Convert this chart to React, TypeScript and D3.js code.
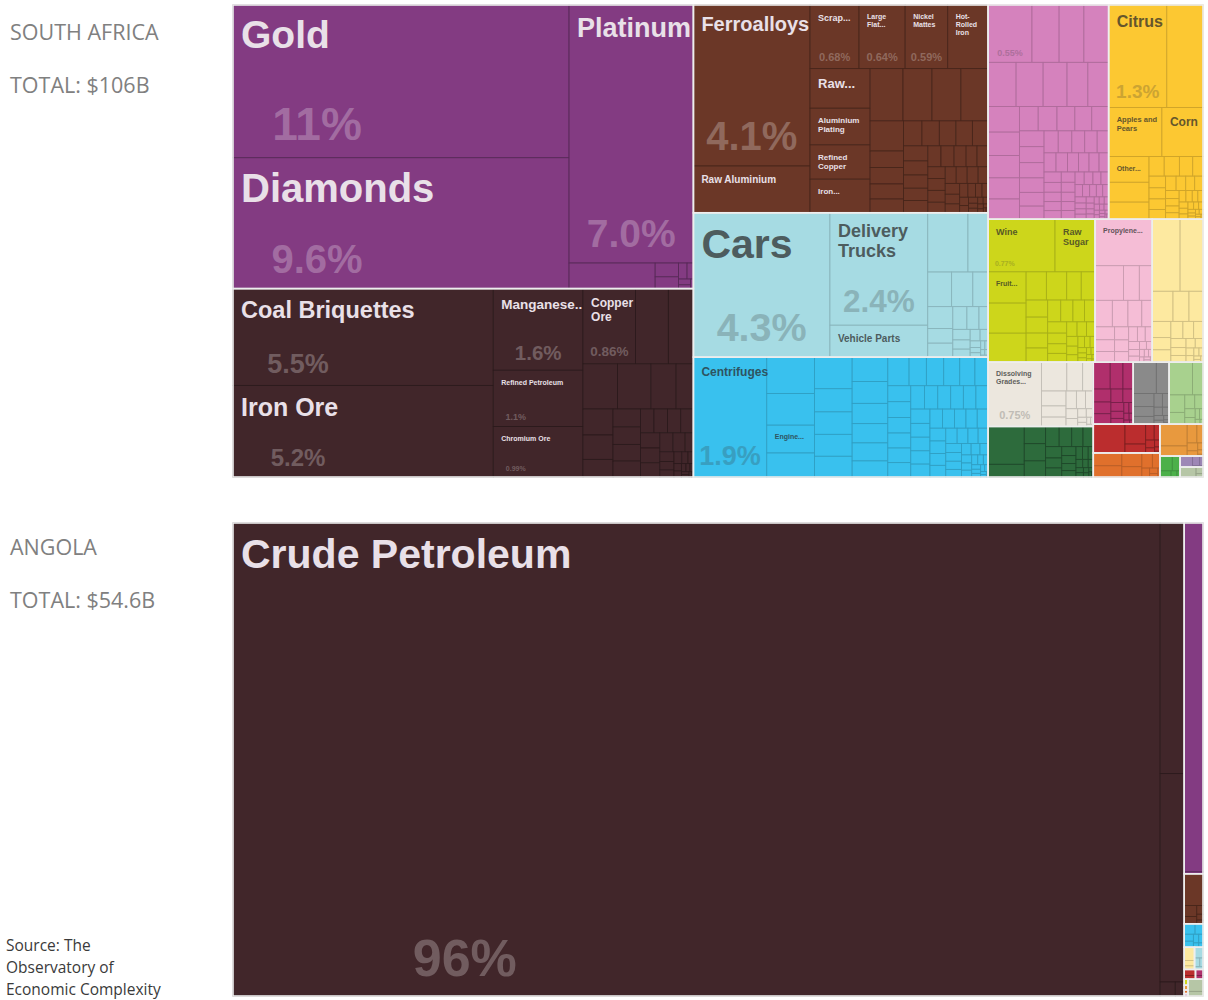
import React, { useMemo } from 'react';
import * as d3 from 'd3';

type Item = [string, number];

// ---------------- texts ----------------
const COUNTRIES = ['SOUTH AFRICA', 'ANGOLA'];
const TOTALS = ['TOTAL: $106B', 'TOTAL: $54.6B'];
const SOURCE = ['Source: The', 'Observatory of', 'Economic Complexity'];

// ---------------- South Africa (share of exports, %) ----------------
const saPreciousMetals: Item[] = [['Gold', 11.2], ['Diamonds', 9.6], ['Platinum', 7.0]];
const saPreciousMetalsRest = [0.48, 0.07, 0.06, 0.03, 0.022, 0.015, 0.01, 0.006];

const saMineralProducts: Item[] = [['Coal Briquettes', 5.5], ['Iron Ore', 5.2], ['Manganese..', 1.6], ['Refined Petroleum', 1.1], ['Chromium Ore', 0.99], ['Copper Ore', 0.86]];
const saMineralProductsRest = [0.54, 0.41, 0.34, 0.33, 0.25, 0.17, 0.17, 0.16, 0.115, 0.107, 0.105, 0.1, 0.095, 0.07, 0.07, 0.068, 0.066, 0.064, 0.062, 0.06, 0.055, 0.05, 0.034, 0.03, 0.026, 0.022, 0.02, 0.016, 0.014, 0.012, 0.01, 0.008, 0.007, 0.006, 0.005, 0.004, 0.003, 0.002];

const saMetals: Item[] = [['Ferroalloys', 4.1], ['Raw Aluminium', 1.19], ['Scrap...', 0.68], ['Large Flat...', 0.64], ['Nickel Mattes', 0.59], ['Hot-Rolled Iron', 0.56], ['Raw...', 0.52], ['Aluminium Plating', 0.48], ['Refined Copper', 0.45], ['Iron...', 0.44]];
const saMetalsRest = [0.375, 0.33, 0.33, 0.31, 0.22, 0.12, 0.12, 0.11, 0.1, 0.1, 0.095, 0.09, 0.09, 0.085, 0.08, 0.075, 0.07, 0.065, 0.065, 0.06, 0.06, 0.055, 0.05, 0.05, 0.045, 0.045, 0.045, 0.04, 0.04, 0.04, 0.04, 0.036, 0.034, 0.03, 0.028, 0.025, 0.023, 0.02, 0.018, 0.016, 0.014, 0.012, 0.01, 0.009, 0.008, 0.007, 0.006, 0.005, 0.004, 0.003, 0.002];

const saTransportation: Item[] = [['Cars', 4.3], ['Delivery Trucks', 2.4], ['Vehicle Parts', 0.68]];
const saTransportationRest = [0.52, 0.26, 0.18, 0.16, 0.115, 0.12, 0.08, 0.076, 0.07, 0.06, 0.045, 0.04, 0.035, 0.03, 0.025, 0.02, 0.015, 0.012, 0.01, 0.008, 0.006, 0.005, 0.004, 0.003];

const saMachines: Item[] = [['Centrifuges', 1.92], ['', 0.38], ['', 0.33], ['Engine...', 0.29]];
const saMachinesRest = [0.25, 0.26, 0.19, 0.185, 0.18, 0.17, 0.19, 0.17, 0.157, 0.15, 0.14, 0.125, 0.133, 0.108, 0.108, 0.1, 0.095, 0.082, 0.08, 0.079, 0.078, 0.075, 0.073, 0.072, 0.07, 0.068, 0.066, 0.065, 0.064, 0.062, 0.06, 0.058, 0.057, 0.056, 0.054, 0.052, 0.05, 0.048, 0.047, 0.045, 0.044, 0.043, 0.041, 0.04, 0.038, 0.036, 0.034, 0.033, 0.031, 0.03, 0.028, 0.026, 0.024, 0.022, 0.02, 0.018, 0.016, 0.015, 0.013, 0.012, 0.01, 0.009, 0.008, 0.007, 0.006, 0.005, 0.004, 0.003, 0.002];

const saChemicalProducts: Item[] = [['Packaged Medicaments', 0.55]];
const saChemicalProductsRest = [0.34, 0.31, 0.31, 0.27, 0.26, 0.23, 0.2, 0.2, 0.176, 0.16, 0.153, 0.145, 0.138, 0.1, 0.1, 0.095, 0.09, 0.09, 0.085, 0.086, 0.082, 0.078, 0.074, 0.07, 0.068, 0.065, 0.062, 0.06, 0.055, 0.05, 0.048, 0.046, 0.044, 0.042, 0.04, 0.039, 0.037, 0.035, 0.034, 0.032, 0.031, 0.03, 0.028, 0.027, 0.026, 0.025, 0.024, 0.022, 0.021, 0.02, 0.019, 0.018, 0.017, 0.016, 0.015, 0.014, 0.013, 0.012, 0.011, 0.01, 0.009, 0.009, 0.008, 0.008, 0.007, 0.007, 0.006, 0.006, 0.005, 0.005, 0.004, 0.004, 0.003, 0.003, 0.002, 0.002];

const saVegetableProducts: Item[] = [['Citrus', 1.3], ['', 0.81], ['Apples and Pears', 0.57], ['Corn', 0.44], ['Other...', 0.227]];
const saVegetableProductsRest = [0.175, 0.15, 0.065, 0.065, 0.057, 0.044, 0.042, 0.04, 0.038, 0.035, 0.033, 0.03, 0.028, 0.026, 0.024, 0.022, 0.02, 0.019, 0.017, 0.016, 0.014, 0.013, 0.012, 0.011, 0.01, 0.009, 0.008, 0.007, 0.006, 0.005, 0.005, 0.004, 0.004, 0.003, 0.003, 0.002];

const saFoodstuffs: Item[] = [['Wine', 0.77], ['Raw Sugar', 0.46], ['Fruit...', 0.26]];
const saFoodstuffsRest = [0.25, 0.24, 0.125, 0.125, 0.09, 0.085, 0.08, 0.075, 0.07, 0.066, 0.062, 0.058, 0.055, 0.05, 0.047, 0.044, 0.04, 0.036, 0.033, 0.03, 0.027, 0.024, 0.021, 0.018, 0.016, 0.014, 0.012, 0.01, 0.009, 0.008, 0.007, 0.006, 0.005, 0.004, 0.003, 0.002];

const saPlastics: Item[] = [['Propylene...', 0.58]];
const saPlasticsRest = [0.215, 0.12, 0.097, 0.1, 0.09, 0.08, 0.06, 0.055, 0.05, 0.045, 0.04, 0.036, 0.032, 0.028, 0.025, 0.022, 0.019, 0.016, 0.014, 0.012, 0.01, 0.008, 0.007, 0.006, 0.005, 0.004, 0.003, 0.002];

const saTextilesRest = [0.44, 0.36, 0.137, 0.105, 0.092, 0.066, 0.05, 0.05, 0.045, 0.04, 0.035, 0.03, 0.026, 0.022, 0.019, 0.016, 0.013, 0.011, 0.009, 0.007, 0.005, 0.004, 0.003];

const saPaperGoods: Item[] = [['Dissolving Grades...', 0.75]];
const saPaperGoodsRest = [0.16, 0.1, 0.067, 0.08, 0.06, 0.05, 0.04, 0.035, 0.03, 0.025, 0.02, 0.016, 0.013, 0.01, 0.008, 0.006, 0.004, 0.003];

const saStoneRest = [0.3, 0.1, 0.08, 0.08, 0.075, 0.06, 0.055, 0.05, 0.045, 0.04, 0.035, 0.032, 0.028, 0.025, 0.022, 0.02, 0.018, 0.016, 0.014, 0.012, 0.01, 0.009, 0.008, 0.007, 0.006, 0.005, 0.004, 0.003, 0.002];
const saAnimalHidesRest = [0.1, 0.075, 0.06, 0.05, 0.045, 0.04, 0.035, 0.03, 0.025, 0.02, 0.016, 0.012, 0.01, 0.008, 0.006, 0.005, 0.003];
const saInstrumentsRest = [0.159, 0.087, 0.06, 0.045, 0.035, 0.025, 0.02, 0.015, 0.012, 0.01, 0.008, 0.005, 0.003, 0.002];
const saAnimalProductsRest = [0.168, 0.075, 0.06, 0.04, 0.03, 0.025, 0.02, 0.015, 0.01, 0.008, 0.005, 0.003];
const saWeaponsRest = [0.2, 0.09, 0.04, 0.03, 0.02, 0.015, 0.01, 0.008, 0.005, 0.002];
const saMiscellaneousRest = [0.08, 0.07, 0.06, 0.045, 0.035, 0.025, 0.015, 0.01, 0.006, 0.004];
const saWoodProductsRest = [0.13, 0.06, 0.04, 0.025, 0.018, 0.012, 0.008, 0.005, 0.002];
const saFootwearRest = [0.04, 0.025, 0.015, 0.008, 0.004];
const saArtRest = [0.03, 0.015, 0.007, 0.003];
const saStoneGlassRest = [0.035, 0.01, 0.005];

// ---------------- Angola (share of exports, %) ----------------
const angMineralProducts: Item[] = [['Crude Petroleum', 95.6]];
const angMineralProductsRest = [1.31, 1.09, 0.046, 0.027];
const angPreciousMetalsRest = [1.43, 0.008];
const angMetalsRest = [0.13, 0.03, 0.02, 0.012, 0.008, 0.005];
const angMachinesRest = [0.025, 0.018, 0.014, 0.012, 0.01, 0.008, 0.005, 0.004];
const angTextilesRest = [0.03, 0.012, 0.008];
const angTransportationRest = [0.02, 0.01, 0.006, 0.005];
const angWeaponsRest = [0.015, 0.009];
const angAnimalHidesRest = [0.01, 0.006];
const angFoodstuffsRest = [0.005];
const angWoodProductsRest = [0.004];
const angMiscellaneousRest = [0.003];
const angChemicalProductsRest = [0.002];
const angStoneGlassRest = [0.04, 0.015];

// ---------------- styles ----------------
const SECTOR_COLORS: Record<string, string> = {
  'Precious Metals': '#833b82',
  'Mineral Products': '#41262a',
  'Metals': '#6b3727',
  'Transportation': '#a6dbe3',
  'Machines': '#39c1ee',
  'Chemical Products': '#d582bd',
  'Vegetable Products': '#fcc832',
  'Foodstuffs': '#cdd61b',
  'Plastics and Rubbers': '#f5bdd6',
  'Textiles': '#fde9a0',
  'Paper Goods': '#ece7de',
  'Stone': '#2d6b3c',
  'Animal Hides': '#b02f6c',
  'Instruments': '#8a8a8a',
  'Animal Products': '#a8d18e',
  'Weapons': '#bb2d2e',
  'Miscellaneous': '#e0702c',
  'Wood Products': '#e8993e',
  'Footwear': '#4cb04a',
  'Art': '#9d87b6',
  'Stone and Glass': '#b6c6a6',
};

const LABEL_STYLE: Record<string, { name?: number; pct?: number }> = {
  'Gold': { name: 39, pct: 46 },
  'Diamonds': { name: 40, pct: 40 },
  'Platinum': { name: 27, pct: 39 },
  'Coal Briquettes': { name: 23.5, pct: 27 },
  'Iron Ore': { name: 25, pct: 24 },
  'Manganese..': { name: 13.5, pct: 20.5 },
  'Copper Ore': { name: 12, pct: 13.5 },
  'Refined Petroleum': { name: 7, pct: 9 },
  'Chromium Ore': { name: 7, pct: 7 },
  'Ferroalloys': { name: 20, pct: 40 },
  'Raw Aluminium': { name: 10 },
  'Scrap...': { name: 9, pct: 11 },
  'Large Flat...': { name: 7, pct: 11 },
  'Nickel Mattes': { name: 7, pct: 11 },
  'Hot-Rolled Iron': { name: 7 },
  'Raw...': { name: 13 },
  'Aluminium Plating': { name: 8 },
  'Refined Copper': { name: 8 },
  'Iron...': { name: 8 },
  'Cars': { name: 41, pct: 39.5 },
  'Delivery Trucks': { name: 18, pct: 31.5 },
  'Vehicle Parts': { name: 10 },
  'Centrifuges': { name: 12, pct: 27 },
  'Engine...': { name: 7 },
  'Packaged Medicaments': { pct: 9 },
  'Citrus': { name: 16, pct: 19 },
  'Apples and Pears': { name: 7.5 },
  'Corn': { name: 12 },
  'Other...': { name: 7 },
  'Wine': { name: 9, pct: 7 },
  'Raw Sugar': { name: 9 },
  'Fruit...': { name: 7 },
  'Propylene...': { name: 7 },
  'Dissolving Grades...': { name: 7, pct: 11 },
  'Crude Petroleum': { name: 41, pct: 52 },
};

const FRAMES = [
  { x: 233, y: 5, w: 970, h: 472 },
  { x: 233, y: 523, w: 970, h: 473 },
];
const SIDE_TEXT_Y = [
  [40, 93],
  [555, 608],
];

const LABEL_FONT = '"Liberation Sans", Arial, Helvetica, sans-serif';
const SIDE_FONT = '"Open Sans", "Noto Sans", sans-serif';

// ---------------- hierarchy ----------------
type Node = { name: string; value?: number; children?: Node[] };
const sector = (name: string, items: Item[], rest: number[]): Node => ({
  name,
  children: [
    ...items.map(([n, v]) => ({ name: n, value: v })),
    ...rest.map((v) => ({ name: '', value: v })),
  ],
});

const southAfrica: Node = {
  name: 'South Africa',
  children: [
    sector('Precious Metals', saPreciousMetals, saPreciousMetalsRest),
    sector('Mineral Products', saMineralProducts, saMineralProductsRest),
    sector('Metals', saMetals, saMetalsRest),
    sector('Transportation', saTransportation, saTransportationRest),
    sector('Machines', saMachines, saMachinesRest),
    sector('Chemical Products', saChemicalProducts, saChemicalProductsRest),
    sector('Vegetable Products', saVegetableProducts, saVegetableProductsRest),
    sector('Foodstuffs', saFoodstuffs, saFoodstuffsRest),
    sector('Plastics and Rubbers', saPlastics, saPlasticsRest),
    sector('Textiles', [], saTextilesRest),
    sector('Paper Goods', saPaperGoods, saPaperGoodsRest),
    sector('Stone', [], saStoneRest),
    sector('Animal Hides', [], saAnimalHidesRest),
    sector('Instruments', [], saInstrumentsRest),
    sector('Animal Products', [], saAnimalProductsRest),
    sector('Weapons', [], saWeaponsRest),
    sector('Miscellaneous', [], saMiscellaneousRest),
    sector('Wood Products', [], saWoodProductsRest),
    sector('Footwear', [], saFootwearRest),
    sector('Art', [], saArtRest),
    sector('Stone and Glass', [], saStoneGlassRest),
  ],
};

const angola: Node = {
  name: 'Angola',
  children: [
    sector('Mineral Products', angMineralProducts, angMineralProductsRest),
    sector('Precious Metals', [], angPreciousMetalsRest),
    sector('Metals', [], angMetalsRest),
    sector('Machines', [], angMachinesRest),
    sector('Textiles', [], angTextilesRest),
    sector('Transportation', [], angTransportationRest),
    sector('Weapons', [], angWeaponsRest),
    sector('Animal Hides', [], angAnimalHidesRest),
    sector('Foodstuffs', [], angFoodstuffsRest),
    sector('Wood Products', [], angWoodProductsRest),
    sector('Miscellaneous', [], angMiscellaneousRest),
    sector('Chemical Products', [], angChemicalProductsRest),
    sector('Stone and Glass', [], angStoneGlassRest),
  ],
};

const DATASETS = [southAfrica, angola];

// ---------------- helpers ----------------
let ctx: CanvasRenderingContext2D | null = null;
function measure(text: string, size: number) {
  if (!ctx) ctx = document.createElement('canvas').getContext('2d');
  if (!ctx) return text.length * size * 0.6;
  ctx.font = `bold ${size}px ${LABEL_FONT}`;
  return ctx.measureText(text).width;
}

function wrap(text: string, size: number, maxW: number) {
  const tokens: { s: string; sp: boolean }[] = [];
  text.split(' ').forEach((word) => {
    const parts = word.split(/(?<=-)/);
    parts.forEach((p, i) => tokens.push({ s: p, sp: i === 0 }));
  });
  const lines: string[] = [];
  let line = '';
  tokens.forEach((t) => {
    const cand = line ? line + (t.sp ? ' ' : '') + t.s : t.s;
    if (!line || measure(cand, size) <= maxW) line = cand;
    else {
      lines.push(line);
      line = t.s;
    }
  });
  if (line) lines.push(line);
  return lines;
}

const fmtPct = (v: number) => (v >= 10 ? v.toFixed(0) : v >= 1 ? v.toFixed(1) : v.toFixed(2)) + '%';

function Treemap({ data, frame }: { data: Node; frame: { x: number; y: number; w: number; h: number } }) {
  const root = useMemo(() => {
    const r = d3.hierarchy<Node>(data).sum((d) => (d.children ? 0 : d.value || 0));
    d3.treemap<Node>().tile(d3.treemapSquarify).size([frame.w, frame.h])(r);
    return r as d3.HierarchyRectangularNode<Node>;
  }, [data, frame]);

  const leaves = root.leaves();
  const sectors = root.children || [];

  return (
    <g transform={`translate(${frame.x},${frame.y})`}>
      {leaves.map((l, i) => {
        const c = SECTOR_COLORS[l.parent!.data.name];
        const dark = d3.lab(c).l < 55;
        const stroke = d3.color(c)!.darker(dark ? 1.1 : 0.55).formatHex();
        return (
          <rect
            key={i}
            x={l.x0}
            y={l.y0}
            width={Math.max(0, l.x1 - l.x0)}
            height={Math.max(0, l.y1 - l.y0)}
            fill={c}
            stroke={stroke}
            strokeWidth={0.9}
          />
        );
      })}
      {sectors.map((s, i) => (
        <rect
          key={'s' + i}
          x={s.x0}
          y={s.y0}
          width={s.x1 - s.x0}
          height={s.y1 - s.y0}
          fill="none"
          stroke="#eeeeee"
          strokeWidth={1.6}
        />
      ))}
      {leaves.map((l, i) => {
        const st = LABEL_STYLE[l.data.name];
        if (!l.data.name || !st) return null;
        const c = SECTOR_COLORS[l.parent!.data.name];
        const light = d3.lab(c).l >= 55;
        const nameColor = light ? d3.interpolateRgb(c, '#2a2a2a')(0.72) : '#e9e0e8';
        const pctColor = light ? d3.interpolateRgb(c, '#333333')(0.24) : d3.interpolateRgb(c, '#ffffff')(0.25);
        const w = l.x1 - l.x0;
        const out: React.ReactNode[] = [];
        if (st.name) {
          const lines = wrap(l.data.name, st.name, w - 12);
          out.push(
            <text
              key="n"
              x={l.x0 + 8}
              y={l.y0 + 8 + st.name * 0.9}
              fontFamily={LABEL_FONT}
              fontWeight="bold"
              fontSize={st.name}
              fill={nameColor}
            >
              {lines.map((ln, j) => (
                <tspan key={j} x={l.x0 + 8} dy={j === 0 ? 0 : st.name! * 1.12}>
                  {ln}
                </tspan>
              ))}
            </text>
          );
        }
        if (st.pct) {
          const txt = fmtPct(l.data.value || 0);
          const tw = measure(txt, st.pct);
          const cx = tw < w / 2 - 10 ? l.x0 + w / 4 : l.x0 + w / 2;
          const left = Math.max(l.x0 + 1, cx - tw / 2);
          out.push(
            <text
              key="p"
              x={left}
              y={l.y1 - (4 + 0.3 * st.pct)}
              fontFamily={LABEL_FONT}
              fontWeight="bold"
              fontSize={st.pct}
              fill={pctColor}
            >
              {txt}
            </text>
          );
        }
        return <g key={'l' + i}>{out}</g>;
      })}
    </g>
  );
}

export default function App() {
  return (
    <svg
      width={1208}
      height={1000}
      style={{ position: 'absolute', left: 0, top: 0, background: '#ffffff' }}
    >
      {DATASETS.map((d, i) => (
        <Treemap key={i} data={d} frame={FRAMES[i]} />
      ))}
      {COUNTRIES.map((c, i) => (
        <g key={c}>
          <text x={10} y={SIDE_TEXT_Y[i][0]} fontFamily={SIDE_FONT} fontSize={21.5} fill="#808080">
            {c}
          </text>
          <text x={10} y={SIDE_TEXT_Y[i][1]} fontFamily={SIDE_FONT} fontSize={21.5} fill="#808080">
            {TOTALS[i]}
          </text>
        </g>
      ))}
      {SOURCE.map((s, i) => (
        <text key={s} x={6} y={951 + i * 22} fontFamily={SIDE_FONT} fontSize={15.5} fill="#3a3a3a">
          {s}
        </text>
      ))}
    </svg>
  );
}
